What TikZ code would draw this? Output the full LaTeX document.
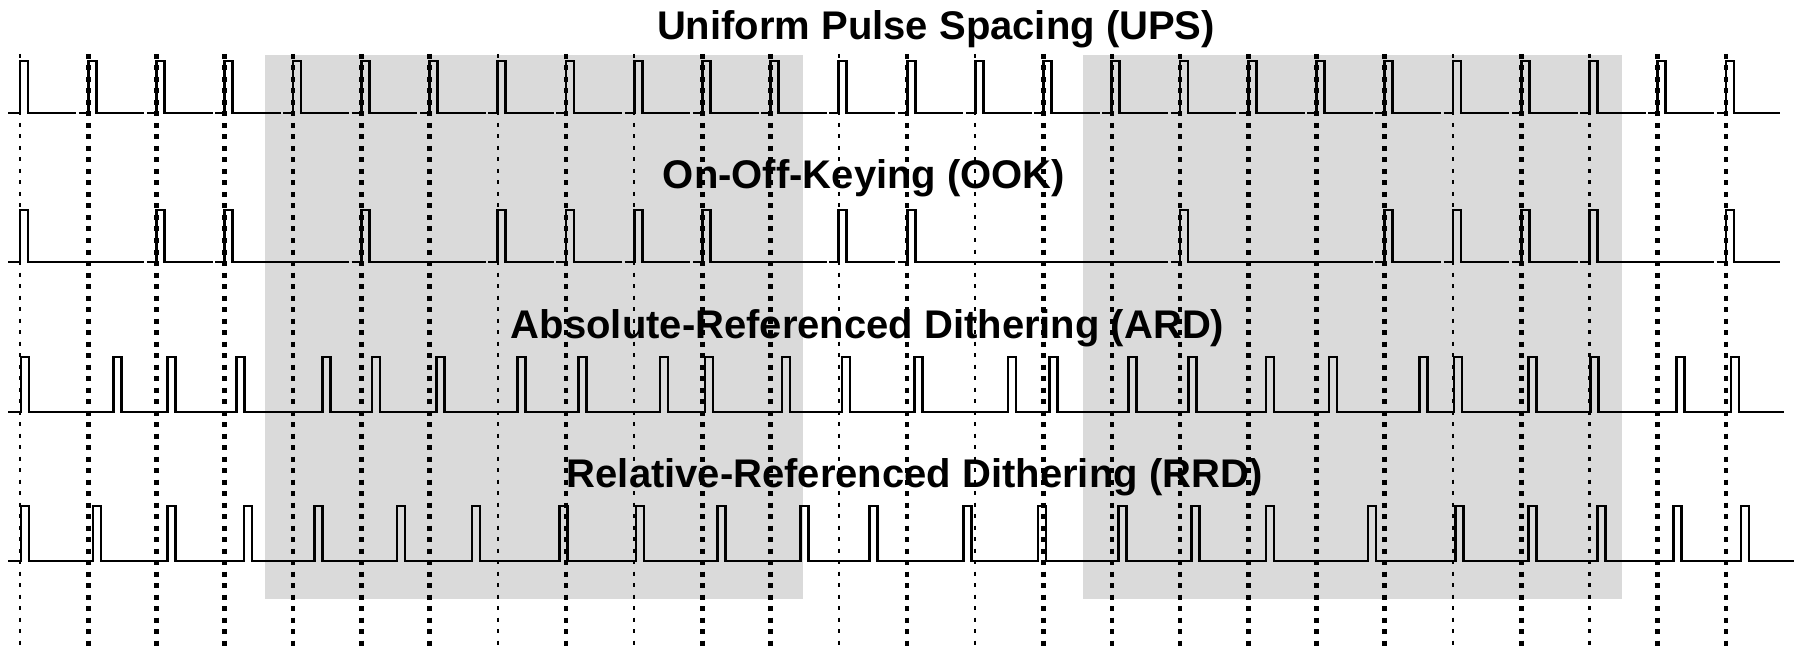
\documentclass[tikz,border=0pt]{standalone}
\usepackage{fontspec}
\setmainfont{Liberation Sans}
\definecolor{shadegray}{RGB}{218,218,218}
\begin{document}
\begin{tikzpicture}[x=1pt,y=-1pt,
  gridthin/.style={line width=2.2pt, dash pattern=on 4pt off 7.5pt},
  gridthick/.style={line width=4.7pt, dash pattern=on 5pt off 6.5pt},
  wave/.style={line width=2.8pt, line join=miter, line cap=butt},
  shadebox/.style={fill=shadegray, draw=none},
  title/.style={font=\fontsize{40}{48}\selectfont\bfseries, anchor=base, inner sep=0pt}]
\useasboundingbox (0,0) rectangle (1796,647);
% shaded regions
\fill[shadebox] (265,55) rectangle (803,599);
\fill[shadebox] (1083,55) rectangle (1622,599);
% grid lines
\foreach \k in {0,7,9,12,14,21,23}
  \draw[gridthin] ({20+68.24*\k},54) -- ({20+68.24*\k},647);
\foreach \k in {1,2,3,4,5,6,8,10,11,13,15,16,17,18,19,20,22,24,25}
  \draw[gridthick] ({20+68.24*\k},54) -- ({20+68.24*\k},647);
% UPS row
\draw[wave] (8,113) -- (20,113) -- (20,61) -- (28,61) -- (28,113) -- ({20+68.24-12},113);
\foreach \k in {1,...,24}
  \draw[wave] ({20+68.24*\k-9.5},113) -- ({20+68.24*\k},113) -- ({20+68.24*\k},61)
     -- ({28+68.24*\k},61) -- ({28+68.24*\k},113) -- ({20+68.24*(\k+1)-12},113);
\draw[wave] ({20+68.24*25-9.5},113) -- ({20+68.24*25},113) -- ({20+68.24*25},61)
     -- ({28+68.24*25},61) -- ({28+68.24*25},113) -- (1780,113);
% OOK row
\draw[wave] (8,262) -- (20,262) -- (20,210) -- (28,210) -- (28,262) -- ({20+68.24*2-12},262);
\foreach \k/\n in {2/3,3/5,5/7,7/8,8/9,9/10,10/12,12/13,13/17,17/20,20/21,21/22,22/23,23/25}
  \draw[wave] ({20+68.24*\k-9.5},262) -- ({20+68.24*\k},262) -- ({20+68.24*\k},210)
     -- ({28+68.24*\k},210) -- ({28+68.24*\k},262) -- ({20+68.24*\n-12},262);
\draw[wave] ({20+68.24*25-9.5},262) -- ({20+68.24*25},262) -- ({20+68.24*25},210)
     -- ({28+68.24*25},210) -- ({28+68.24*25},262) -- (1780,262);
% ARD row
\draw[wave] (8,412)
  \foreach \x in {21,113.7,167.6,236.5,322.6,372,436.3,517.8,578.6,660,705,781.9,842,914.4,1008,1049.8,1128.5,1188.8,1266,1329,1419.5,1454,1528.6,1590.6,1676.7,1731}
  { -- (\x,412) -- (\x,357) -- (\x+8,357) -- (\x+8,412) } -- (1784,412);
% RRD row
\draw[wave] (8,561)
  \foreach \x in {21,93,167.6,244,314.6,397,472,559.7,636,717.6,800.8,869.7,963.7,1038,1118.7,1191.6,1266,1367.9,1455.7,1528.6,1597.5,1673.8,1741}
  { -- (\x,561) -- (\x,506) -- (\x+8,506) -- (\x+8,561) } -- (1794,561);
% titles
\node[title] (ups) at (936,39.5) {Uniform Pulse Spacing (UPS)};
\node[title] (ook) at (864,189) {On-Off-Keying (OOK)};
\node[title] (ard) at (867.6,338) {Absolute-Referenced Dithering (ARD)};
\node[title] (rrd) at (914.6,487.5) {Relative-Referenced Dithering (RRD)};
\end{tikzpicture}
\end{document}
